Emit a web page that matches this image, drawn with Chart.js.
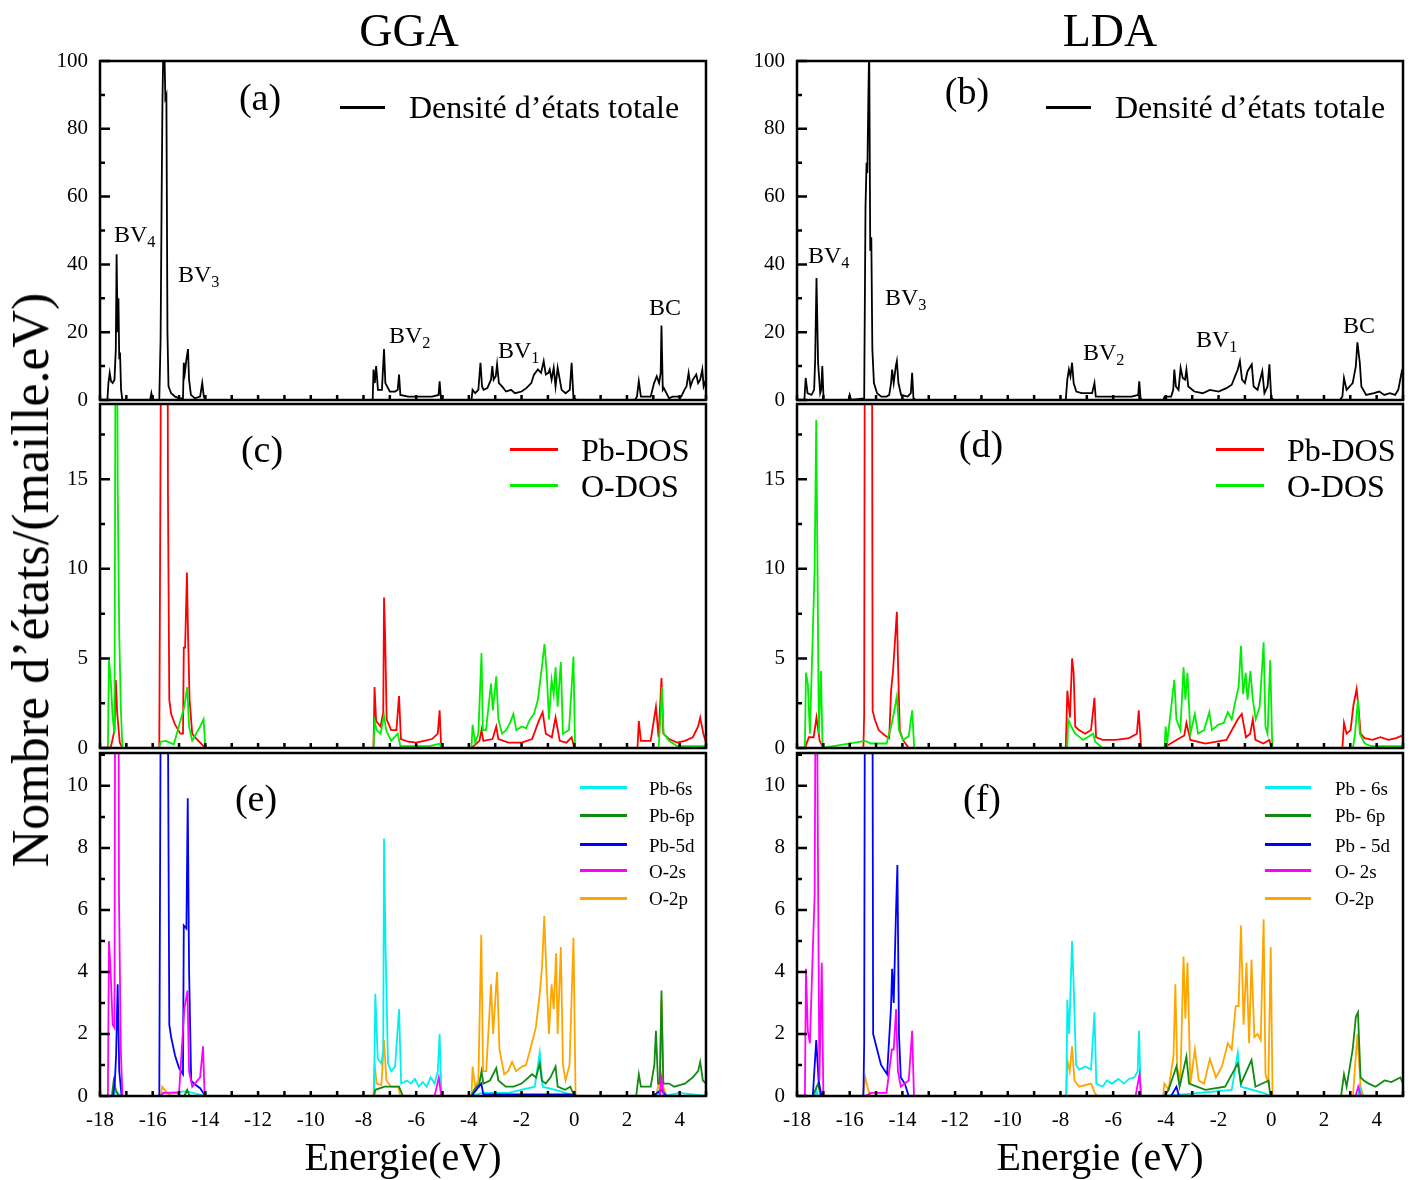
<!DOCTYPE html>
<html><head><meta charset="utf-8">
<script src="https://cdn.jsdelivr.net/npm/chart.js@4/dist/chart.umd.min.js"></script>
<style>
body{margin:0;background:#fff;width:1411px;height:1180px;position:relative;overflow:hidden;font-family:"Liberation Serif","Times New Roman",serif;color:#000}
canvas{position:absolute}
.t{position:absolute;white-space:nowrap;line-height:1;color:#000}
.c{transform:translate(-50%,-50%)}
.ln{position:absolute;height:3px}
sub{font-size:68%;vertical-align:-0.3em;line-height:0}
</style></head><body>
<script>
// ---------- tick labels ----------
const xTickLabels = [-18,-16,-14,-12,-10,-8,-6,-4,-2,0,2,4];
const yTicksTotal = [0,20,40,60,80,100];
const yTicksPDOS  = [0,5,10,15];
const yTicksOrb   = [0,2,4,6,8,10];

// ---------- (a) GGA total DOS  [E (eV), DOS] ----------
const ggaTotal = [[-18,0],[-17.72,0],[-17.68,5],[-17.63,8],[-17.58,5.5],[-17.52,5],[-17.45,6],[-17.40,15],[-17.37,43],[-17.33,20],[-17.30,30],[-17.27,12],[-17.24,14],[-17.20,3],[-17.15,0],
 [-16.1,0],[-16.05,2],[-16.0,0],
 [-15.75,0],[-15.70,18],[-15.66,60],[-15.63,88],[-15.60,102],[-15.56,105],[-15.52,89],[-15.48,90],[-15.44,20],[-15.40,4],[-15.30,2],[-15.15,1],[-15.0,0.5],
 [-14.85,0.5],[-14.82,11],[-14.78,8],[-14.72,12],[-14.66,15],[-14.62,6],[-14.55,1.5],[-14.4,0.5],[-14.2,1],[-14.12,5],[-14.06,1],[-14.0,0],
 [-7.65,0],[-7.62,9],[-7.57,5],[-7.52,10],[-7.45,3],[-7.30,3],[-7.22,15],[-7.17,5],[-7.0,2.5],[-6.8,2.5],[-6.70,3],[-6.65,7.5],[-6.60,1.5],[-6.3,1],[-6.0,1],[-5.7,1],[-5.4,1],[-5.15,1.5],[-5.11,5.5],[-5.06,0.5],[-5.0,0],
 [-3.9,0],[-3.86,3],[-3.76,2],[-3.64,3],[-3.56,11],[-3.50,4],[-3.44,3],[-3.30,3.5],[-3.16,6],[-3.11,10],[-3.06,6],[-2.98,7],[-2.93,10.5],[-2.86,5],[-2.74,4],[-2.59,2.5],[-2.40,3],[-2.25,2],[-2.0,2.5],[-1.82,3.5],[-1.63,5],[-1.53,7.5],[-1.38,9],[-1.26,8],[-1.16,11.5],[-1.08,7.5],[-0.98,8],[-0.93,9],[-0.86,6],[-0.78,9.5],[-0.71,4],[-0.63,9.5],[-0.48,3],[-0.33,2],[-0.17,3],[-0.10,11],[-0.03,0.5],[0.1,0],
 [2.3,0],[2.38,1],[2.45,5.5],[2.53,1],[2.9,1],[3.03,5],[3.13,7],[3.22,5],[3.28,8],[3.31,22],[3.36,3],[3.4,3.5],[3.5,2],[3.6,0.5],[3.73,1],[3.9,1],[4.06,1],[4.18,3],[4.26,4],[4.34,8],[4.41,4],[4.5,6],[4.63,7.5],[4.7,5],[4.78,6],[4.86,9],[4.91,4],[5,6]];

// ---------- (b) LDA total DOS ----------
const ldaTotal = [[-18,0],[-17.72,0],[-17.67,6.5],[-17.60,2],[-17.45,1.5],[-17.35,3],[-17.31,12],[-17.26,36],[-17.20,11],[-17.12,2],[-17.08,3],[-17.04,10],[-16.99,0],
 [-16.05,0],[-16.0,1.5],[-15.95,0],
 [-15.45,0.5],[-15.40,57],[-15.36,70],[-15.33,67],[-15.29,90],[-15.26,105],[-15.22,44],[-15.18,48],[-15.14,15],[-15.08,5],[-14.96,2],[-14.8,1],[-14.6,1],[-14.50,1.5],[-14.43,5],[-14.39,9],[-14.33,5],[-14.25,10],[-14.21,11.5],[-14.15,5],[-14.05,1.5],[-13.8,1],[-13.68,2],[-13.63,8],[-13.58,0.5],[-13.5,0],
 [-7.8,0],[-7.74,6],[-7.68,9],[-7.62,7],[-7.56,11],[-7.50,5],[-7.40,2.5],[-7.2,2],[-7.0,2],[-6.8,2],[-6.71,5],[-6.66,1],[-6.3,1],[-6.0,1],[-5.6,1],[-5.3,1],[-5.05,1.5],[-5.01,5.5],[-4.96,0.5],[-4.9,0],
 [-4.1,0],[-4.05,1],[-3.8,1],[-3.72,3],[-3.68,9],[-3.62,4],[-3.52,3],[-3.44,9.5],[-3.36,6.5],[-3.27,6],[-3.22,9],[-3.15,4],[-2.92,2.5],[-2.6,2],[-2.33,3],[-2.0,2.5],[-1.7,3.5],[-1.5,4.5],[-1.35,7.5],[-1.27,9],[-1.19,11.5],[-1.11,6],[-1.0,5],[-0.90,8.5],[-0.74,10.5],[-0.67,4],[-0.52,3],[-0.34,8.5],[-0.26,2],[-0.14,4],[-0.07,10.5],[0,0.5],[0.1,0],
 [2.6,0],[2.7,1],[2.76,6.5],[2.86,3],[3.09,5],[3.21,10],[3.27,17],[3.36,11],[3.42,4],[3.6,1.5],[3.9,2],[4.1,2.5],[4.29,1.5],[4.5,2],[4.7,1.5],[4.82,3],[4.97,9]];

// ---------- (c) GGA Pb / O ----------
const ggaPb = [[-18,0],[-17.6,0],[-17.52,0.5],[-17.45,1],[-17.40,3.8],[-17.35,2],[-17.25,0.3],[-17.15,0],
 [-15.75,0],[-15.70,17],[-15.66,40],[-15.55,80],[-15.46,40],[-15.42,14],[-15.37,2.7],[-15.30,1.9],[-15.15,1.3],[-14.95,0.8],[-14.85,0.8],[-14.82,5.6],[-14.77,5.6],[-14.70,9.8],[-14.66,6.4],[-14.60,2.7],[-14.5,0.8],[-14.4,0.6],[-14.2,0.3],[-14.0,0],
 [-7.62,0],[-7.58,3.4],[-7.52,1.5],[-7.35,1.2],[-7.25,2],[-7.22,8.4],[-7.18,6.4],[-7.12,1.6],[-6.95,1.0],[-6.75,1.0],[-6.65,2.9],[-6.58,0.5],[-6.3,0.35],[-6.0,0.3],[-5.7,0.4],[-5.4,0.5],[-5.18,0.8],[-5.11,2.1],[-5.05,0],
 [-3.9,0],[-3.6,0.4],[-3.52,1.0],[-3.45,0.4],[-3.10,0.5],[-2.96,1.2],[-2.88,0.5],[-2.5,0.3],[-2.0,0.3],[-1.6,0.5],[-1.35,1.5],[-1.2,2],[-1.08,0.8],[-0.85,0.6],[-0.71,1.7],[-0.55,0.4],[-0.3,0.3],[-0.1,0.6],[0,0],
 [2.4,0],[2.45,1.5],[2.53,0.4],[2.9,0.4],[3.1,2.3],[3.2,0.6],[3.31,3.9],[3.38,0.8],[3.6,0.5],[3.9,0.3],[4.2,0.4],[4.5,0.6],[4.7,1.2],[4.78,1.7],[4.9,0.8],[5,0.3]];
const ggaO = [[-18,0],[-17.70,0],[-17.66,4.9],[-17.60,4],[-17.52,1.7],[-17.45,0.8],[-17.39,35],[-17.36,30],[-17.33,14.8],[-17.27,6.4],[-17.21,2.3],[-17.15,0],
 [-15.75,0],[-15.7,0.35],[-15.5,0.4],[-15.2,0.2],[-14.8,2.3],[-14.69,3.4],[-14.62,1.2],[-14.5,0.4],[-14.2,1.2],[-14.07,1.6],[-14.0,0],
 [-7.62,0],[-7.58,1.5],[-7.5,1.0],[-7.35,0.8],[-7.22,1.8],[-7.14,1],[-6.95,0.4],[-6.7,0.8],[-6.6,0.1],[-5.5,0.1],[-5.1,0.25],[-5.05,0],
 [-3.9,0],[-3.86,1.3],[-3.76,0.3],[-3.64,0.8],[-3.52,5.3],[-3.47,1],[-3.35,1],[-3.16,3.6],[-3.09,2.1],[-2.96,4],[-2.88,1.6],[-2.74,0.8],[-2.59,1],[-2.44,1.4],[-2.31,1.9],[-2.2,1],[-1.98,1.2],[-1.83,1.1],[-1.68,1.6],[-1.53,1.9],[-1.38,2.7],[-1.23,4.5],[-1.13,5.8],[-1.05,4.3],[-0.96,1.6],[-0.86,3.8],[-0.78,3.0],[-0.71,4.5],[-0.63,2.3],[-0.51,4.8],[-0.43,0.8],[-0.2,1],[-0.03,5.1],[0.03,0],
 [3.2,0],[3.28,1.9],[3.33,3.4],[3.39,0.8],[3.6,0.4],[3.9,0.1],[5,0.1]];

// ---------- (d) LDA Pb / O ----------
const ldaPb = [[-18,0],[-17.7,0],[-17.55,0.6],[-17.37,0.6],[-17.26,1.7],[-17.14,0.4],[-17.0,0],
 [-15.48,0],[-15.45,1.9],[-15.41,40],[-15.30,70],[-15.17,40],[-15.13,2.1],[-15.05,1.6],[-14.9,1.0],[-14.66,0.7],[-14.5,0.55],[-14.43,3.2],[-14.36,4.2],[-14.28,6],[-14.21,7.6],[-14.16,4.4],[-14.10,1],[-13.98,0.45],[-13.76,0],
 [-7.8,0],[-7.74,3.2],[-7.64,1.7],[-7.56,5],[-7.50,4.2],[-7.44,1.2],[-7.3,1],[-7.06,0.8],[-6.84,1],[-6.71,2.8],[-6.65,0.6],[-6.4,0.45],[-5.9,0.45],[-5.4,0.55],[-5.1,0.8],[-5.03,2.1],[-4.94,0],
 [-4.1,0],[-3.6,0.45],[-3.30,0.7],[-3.22,1.4],[-3.07,0.45],[-2.5,0.25],[-1.7,0.45],[-1.27,1.6],[-1.12,1.9],[-0.96,0.6],[-0.80,0.8],[-0.70,1.6],[-0.6,0.45],[-0.3,0.25],[-0.07,0.45],[0,0],
 [2.7,0],[2.76,1.4],[2.86,0.8],[3.01,1.0],[3.12,2.4],[3.24,3.3],[3.32,2.1],[3.39,0.8],[3.54,0.55],[3.84,0.45],[4.14,0.6],[4.45,0.45],[4.74,0.55],[4.97,0.7],[5,0.45]];
const ldaO = [[-18,0],[-17.70,0],[-17.66,4.2],[-17.59,3.6],[-17.51,0.8],[-17.40,6.4],[-17.33,10],[-17.27,18.3],[-17.21,7.9],[-17.17,0.8],[-17.09,4.3],[-17.03,0],
 [-15.41,0.4],[-15.2,0.25],[-14.6,0.25],[-14.43,1.2],[-14.33,1.9],[-14.21,2.9],[-14.13,1.0],[-13.98,0.45],[-13.76,0.65],[-13.63,2.1],[-13.55,0],
 [-7.74,0],[-7.71,1.6],[-7.59,1.2],[-7.44,0.8],[-7.14,0.45],[-6.76,0.8],[-6.68,0.35],[-6.4,0],
 [-4.05,0],[-4.01,1.2],[-3.95,0.3],[-3.68,3.8],[-3.60,1.6],[-3.45,1],[-3.33,4.5],[-3.26,2.7],[-3.18,4.2],[-3.07,0.8],[-2.90,1.9],[-2.78,0.8],[-2.55,1],[-2.35,2],[-2.25,1],[-2.02,1.3],[-1.8,1.4],[-1.65,2],[-1.5,1.6],[-1.35,2.7],[-1.24,3.4],[-1.15,5.7],[-1.07,3.0],[-0.97,4.2],[-0.9,2.7],[-0.79,4.3],[-0.70,2.7],[-0.59,1.6],[-0.44,2.3],[-0.29,5.9],[-0.22,1.2],[-0.14,0.8],[-0.04,4.9],[0.04,0],
 [3.1,0],[3.18,0.8],[3.29,2.7],[3.36,0.8],[3.55,0.25],[3.8,0.1],[5,0.1]];

// ---------- (e) GGA orbital-resolved ----------
const ggaPb6s = [[-18,0],[-17.5,0],[-17.4,0.15],[-17.2,0],[-15.7,0],[-15.6,0.1],[-14.7,0.15],[-14.0,0],
 [-7.60,0],[-7.55,3.3],[-7.46,1.2],[-7.32,1.05],[-7.25,1.5],[-7.22,8.3],[-7.16,4.7],[-7.07,1.05],[-6.95,0.8],[-6.80,0.95],[-6.65,2.8],[-6.57,0.4],[-6.35,0.5],[-6.2,0.4],[-6.05,0.55],[-5.9,0.3],[-5.75,0.45],[-5.6,0.3],[-5.45,0.6],[-5.3,0.4],[-5.18,0.8],[-5.11,2.0],[-5.04,0],
 [-3.9,0],[-3.5,0.1],[-2.5,0.1],[-1.5,0.3],[-1.31,1.4],[-1.2,0.3],[-0.5,0.15],[0,0],
 [3.2,0],[3.3,0.5],[3.4,0],[4.0,0.1],[5,0]];
const ggaPb6p = [[-18,0],[-17.55,0],[-17.48,0.5],[-17.40,0.2],[-17.3,0],[-14.8,0],[-14.69,0.2],[-14.6,0],
 [-7.6,0],[-7.55,0.2],[-7.2,0.3],[-6.65,0.3],[-6.5,0],
 [-3.9,0],[-3.8,0.2],[-3.6,0.4],[-3.52,0.8],[-3.45,0.4],[-3.2,0.5],[-2.96,0.9],[-2.88,0.5],[-2.6,0.3],[-2.3,0.3],[-2.0,0.4],[-1.6,0.7],[-1.45,0.6],[-1.31,1.05],[-1.23,0.5],[-1.08,0.4],[-0.9,0.6],[-0.71,0.95],[-0.63,0.3],[-0.35,0.2],[-0.15,0.3],[0,0],
 [2.35,0],[2.45,0.7],[2.53,0.3],[2.9,0.3],[3.04,1.0],[3.10,2.1],[3.18,0.4],[3.25,0.4],[3.31,3.4],[3.38,0.4],[3.6,0.4],[3.8,0.3],[4.0,0.35],[4.2,0.4],[4.35,0.5],[4.5,0.6],[4.7,0.8],[4.78,1.1],[4.88,0.5],[5,0.4]];
const ggaPb5d = [[-18,0],[-17.5,0],[-17.44,0.4],[-17.39,1.3],[-17.33,3.6],[-17.27,0.8],[-17.18,0],
 [-15.75,0],[-15.70,12],[-15.55,40],[-15.45,20],[-15.42,12],[-15.37,2.3],[-15.30,1.9],[-15.15,1.3],[-15.0,0.9],[-14.85,0.7],[-14.82,5.5],[-14.72,5.4],[-14.67,9.6],[-14.62,4.1],[-14.54,0.5],[-14.44,0.4],[-14.2,0.25],[-14.0,0],
 [-3.9,0],[-3.53,0.4],[-3.45,0.05],[0,0.05],[0.1,0],[3.0,0],[3.3,0.2],[3.5,0]];
const ggaO2s = [[-18,0],[-17.70,0],[-17.66,5.0],[-17.60,4.1],[-17.52,2.3],[-17.45,2.2],[-17.39,30],[-17.33,28],[-17.28,6.5],[-17.21,1.5],[-17.15,0],
 [-15.7,0],[-15.6,0.1],[-15.0,0.1],[-14.8,2.8],[-14.68,3.4],[-14.62,0.8],[-14.5,0.3],[-14.2,0.6],[-14.09,1.6],[-14.03,0],
 [-5.3,0],[-5.14,0.6],[-5.05,0],[3.25,0],[3.3,0.6],[3.4,0]];
const ggaO2p = [[-18,0],[-15.7,0],[-15.64,0.3],[-15.5,0.15],[-15.3,0],
 [-7.62,0],[-7.58,1.05],[-7.50,0.4],[-7.32,0.35],[-7.22,1.8],[-7.13,0.5],[-6.95,0.3],[-6.68,0.3],[-6.6,0],
 [-3.9,0],[-3.86,0.95],[-3.76,0.3],[-3.64,0.5],[-3.53,5.2],[-3.46,0.8],[-3.34,0.8],[-3.16,3.6],[-3.08,2.0],[-2.93,4.0],[-2.84,1.5],[-2.66,0.7],[-2.51,0.8],[-2.36,1.1],[-2.21,0.8],[-1.98,0.95],[-1.83,1.0],[-1.61,1.7],[-1.46,2.2],[-1.31,3.3],[-1.22,4.2],[-1.14,5.8],[-1.05,3.8],[-0.96,2.0],[-0.86,3.6],[-0.78,2.8],[-0.69,4.6],[-0.63,2.0],[-0.51,4.8],[-0.43,1.0],[-0.33,0.5],[-0.18,1.0],[-0.03,5.1],[0.05,0],
 [3.1,0],[3.24,0.5],[3.31,3.1],[3.38,0.3],[3.5,0]];

// ---------- (f) LDA orbital-resolved ----------
const ldaPb6s = [[-18,0],[-17.3,0],[-17.27,0.2],[-17.2,0],
 [-7.78,0],[-7.74,3.1],[-7.67,2.0],[-7.56,5.0],[-7.50,3.6],[-7.41,1.0],[-7.29,0.85],[-7.06,0.95],[-6.84,0.85],[-6.71,2.7],[-6.64,0.4],[-6.4,0.3],[-6.24,0.5],[-6.05,0.4],[-5.8,0.55],[-5.6,0.4],[-5.4,0.55],[-5.2,0.6],[-5.07,0.8],[-5.02,2.1],[-4.95,0],
 [-4.0,0],[-1.5,0.2],[-1.27,1.4],[-1.15,0.3],[-0.3,0.1],[0,0],[3.3,0],[3.35,0.3],[3.45,0]];
const ldaPb6p = [[-18,0],[-17.4,0],[-17.3,0.2],[-17.2,0.4],[-17.1,0],
 [-4.05,0],[-3.9,0.2],[-3.6,0.95],[-3.48,0.3],[-3.22,1.27],[-3.12,0.4],[-2.5,0.2],[-1.75,0.3],[-1.27,1.05],[-1.15,0.4],[-0.75,1.16],[-0.6,0.3],[-0.1,0.5],[-0.05,0.1],[0,0],
 [2.65,0],[2.76,0.7],[2.86,0.3],[3.09,1.5],[3.21,2.55],[3.29,2.7],[3.39,0.6],[3.51,0.5],[3.7,0.4],[3.96,0.3],[4.3,0.5],[4.56,0.45],[4.9,0.6],[5,0.4]];
const ldaPb5d = [[-18,0],[-17.4,0],[-17.27,1.8],[-17.18,0.5],[-17.07,0],
 [-15.48,0],[-15.45,1.7],[-15.41,20],[-15.30,45],[-15.15,20],[-15.11,2.0],[-14.96,1.5],[-14.81,1.0],[-14.58,0.7],[-14.43,2.9],[-14.39,4.1],[-14.33,3.0],[-14.25,5.7],[-14.19,7.45],[-14.13,2.0],[-14.06,0.6],[-13.91,0.4],[-13.76,0],
 [-3.8,0],[-3.6,0.3],[-3.5,0],[0,0]];
const ldaO2s = [[-18,0],[-17.7,0],[-17.66,4.1],[-17.59,2.1],[-17.51,1.7],[-17.40,4.7],[-17.33,6.5],[-17.27,18],[-17.21,8.4],[-17.15,0.5],[-17.06,4.3],[-17.0,0],
 [-15.4,0],[-15.2,0.1],[-14.6,0.1],[-14.4,1.5],[-14.33,1.5],[-14.24,2.8],[-14.17,0.8],[-14.06,0.3],[-13.76,0.5],[-13.63,2.1],[-13.56,0],
 [-5.15,0],[-5.0,0.7],[-4.94,0],[3.2,0],[3.3,0.3],[3.4,0]];
const ldaO2p = [[-18,0],[-15.5,0],[-15.41,0.6],[-15.3,0.2],[-15.2,0],
 [-7.78,0],[-7.74,1.15],[-7.65,0.8],[-7.56,1.6],[-7.47,0.5],[-7.29,0.3],[-6.84,0.4],[-6.7,0.1],[-6.6,0],
 [-4.1,0],[-4.06,0.4],[-3.9,0.2],[-3.71,1.3],[-3.64,3.6],[-3.57,0.9],[-3.45,0.5],[-3.33,4.5],[-3.26,2.5],[-3.18,4.3],[-3.07,0.4],[-2.90,1.5],[-2.75,0.5],[-2.55,0.4],[-2.33,1.2],[-2.1,0.6],[-1.87,0.95],[-1.65,1.7],[-1.5,1.5],[-1.35,2.9],[-1.24,2.9],[-1.15,5.5],[-1.05,2.3],[-0.94,4.3],[-0.84,1.7],[-0.75,4.4],[-0.64,1.9],[-0.52,2.0],[-0.4,1.8],[-0.29,5.7],[-0.22,0.7],[-0.11,0.4],[-0.02,4.8],[0.05,0],
 [3.1,0],[3.27,2.0],[3.39,0.3],[3.5,0]];

// ---------- drawing ----------
const FONT = 'Liberation Serif';
const frameTicks = {
  id: 'frameTicks',
  afterDraw(chart, args, o) {
    const {ctx, chartArea: a, scales: {x, y}} = chart;
    ctx.save();
    ctx.strokeStyle = '#000';
    ctx.lineWidth = 2.5;
    ctx.beginPath();
    for (let v = Math.ceil(x.min); v <= x.max; v++) {
      const px = x.getPixelForValue(v);
      ctx.moveTo(px, a.bottom); ctx.lineTo(px, a.bottom - 5);
    }
    for (let v = 0; v <= y.max + 1e-9; v += o.minor) {
      const py = y.getPixelForValue(v);
      const major = o.major.some(m => Math.abs(m - v) < 1e-6);
      ctx.moveTo(a.left, py); ctx.lineTo(a.left + (major ? 10 : 5), py);
    }
    ctx.stroke();
    ctx.strokeRect(a.left, a.top, a.right - a.left, a.bottom - a.top);
    ctx.restore();
  }
};

function ds(label, pts, color, w) {
  return {label, data: pts.map(p => ({x: p[0], y: p[1]})), borderColor: color,
    borderWidth: w || 1.8, pointRadius: 0, tension: 0, fill: false};
}

function panel(area, yMax, yTicks, yMinor, datasets, showX) {
  const YW = 70, PR = 10, PT = 15, PB = 15, XH = 42;
  const cv = document.createElement('canvas');
  const w = YW + (area.r - area.l) + PR;
  const h = PT + (area.b - area.t) + (showX ? XH : PB);
  cv.width = w; cv.height = h;
  cv.style.left = (area.l - YW) + 'px'; cv.style.top = (area.t - PT) + 'px';
  cv.style.width = w + 'px'; cv.style.height = h + 'px';
  document.body.appendChild(cv);
  const noPad = s => { s.paddingTop = 0; s.paddingBottom = 0; s.paddingLeft = 0; s.paddingRight = 0; };
  new Chart(cv, {
    type: 'line',
    data: {datasets},
    options: {
      responsive: false, animation: false, devicePixelRatio: 1,
      layout: {padding: {left: 0, right: PR, top: PT, bottom: showX ? 0 : PB}},
      plugins: {legend: {display: false}, tooltip: {enabled: false},
        frameTicks: {minor: yMinor, major: yTicks}},
      scales: {
        x: {type: 'linear', min: -18, max: 5, display: !!showX,
          grid: {display: false, drawTicks: false}, border: {display: false},
          ticks: {font: {family: FONT, size: 21}, color: '#000', padding: 12, maxRotation: 0, autoSkip: false},
          afterBuildTicks: s => { s.ticks = xTickLabels.map(v => ({value: v})); },
          afterFit: s => { if (showX) s.height = XH; else s.height = 0; noPad(s); }},
        y: {type: 'linear', min: 0, max: yMax,
          grid: {display: false, drawTicks: false}, border: {display: false},
          ticks: {font: {family: FONT, size: 21}, color: '#000', padding: 12},
          afterBuildTicks: s => { s.ticks = yTicks.map(v => ({value: v})); },
          afterFit: s => { s.width = YW; noPad(s); }}
      }
    },
    plugins: [frameTicks]
  });
}

const C = {red: '#ff0000', lime: '#00ee00', cyan: '#00f0f0', dgreen: '#118a11', blue: '#0000ff', mag: '#ff00ff', orange: '#ffa500'};
const L = {l: 100, r: 706}, R = {l: 797, r: 1403};

panel({...L, t: 61, b: 400}, 100, yTicksTotal, 10, [ds('Densité d’états totale', ggaTotal, '#000')]);
panel({...R, t: 61, b: 400}, 100, yTicksTotal, 10, [ds('Densité d’états totale', ldaTotal, '#000')]);
panel({...L, t: 404, b: 748}, 19.2, yTicksPDOS, 2.5, [ds('O-DOS', ggaO, C.lime), ds('Pb-DOS', ggaPb, C.red)]);
panel({...R, t: 404, b: 748}, 19.2, yTicksPDOS, 2.5, [ds('O-DOS', ldaO, C.lime), ds('Pb-DOS', ldaPb, C.red)]);
panel({...L, t: 753, b: 1096}, 11.06, yTicksOrb, 1, [ds('O-2s', ggaO2s, C.mag), ds('Pb-5d', ggaPb5d, C.blue), ds('Pb-6p', ggaPb6p, C.dgreen), ds('Pb-6s', ggaPb6s, C.cyan), ds('O-2p', ggaO2p, C.orange)], true);
panel({...R, t: 753, b: 1096}, 11.06, yTicksOrb, 1, [ds('O- 2s', ldaO2s, C.mag), ds('Pb - 5d', ldaPb5d, C.blue), ds('Pb- 6p', ldaPb6p, C.dgreen), ds('Pb - 6s', ldaPb6s, C.cyan), ds('O-2p', ldaO2p, C.orange)], true);
</script>

<!-- titles -->
<div class="t c" style="left:409px;top:31px;font-size:46px">GGA</div>
<div class="t c" style="left:1110px;top:31px;font-size:46px">LDA</div>
<div class="t c" style="left:31px;top:580px;font-size:52px;transform:translate(-50%,-50%) rotate(-90deg)">Nombre d’états/(maille.eV)</div>
<div class="t c" style="left:403px;top:1157px;font-size:40px">Energie(eV)</div>
<div class="t c" style="left:1100px;top:1157px;font-size:40px">Energie (eV)</div>

<!-- panel letters -->
<div class="t c" style="left:260px;top:97px;font-size:38px">(a)</div>
<div class="t c" style="left:967px;top:91px;font-size:38px">(b)</div>
<div class="t c" style="left:262px;top:449px;font-size:38px">(c)</div>
<div class="t c" style="left:981px;top:444px;font-size:38px">(d)</div>
<div class="t c" style="left:256px;top:798px;font-size:38px">(e)</div>
<div class="t c" style="left:982px;top:798px;font-size:38px">(f)</div>

<!-- band labels -->
<div class="t" style="left:114px;top:222px;font-size:24px">BV<sub>4</sub></div>
<div class="t" style="left:178px;top:262px;font-size:24px">BV<sub>3</sub></div>
<div class="t" style="left:389px;top:323px;font-size:24px">BV<sub>2</sub></div>
<div class="t" style="left:498px;top:338px;font-size:24px">BV<sub>1</sub></div>
<div class="t" style="left:649px;top:295px;font-size:24px">BC</div>
<div class="t" style="left:808px;top:243px;font-size:24px">BV<sub>4</sub></div>
<div class="t" style="left:885px;top:285px;font-size:24px">BV<sub>3</sub></div>
<div class="t" style="left:1083px;top:340px;font-size:24px">BV<sub>2</sub></div>
<div class="t" style="left:1196px;top:327px;font-size:24px">BV<sub>1</sub></div>
<div class="t" style="left:1343px;top:313px;font-size:24px">BC</div>

<!-- legends -->
<div class="ln" style="left:340px;top:106px;width:45px;background:#000"></div>
<div class="t" style="left:409px;top:107px;font-size:32px;transform:translateY(-50%)">Densité d’états totale</div>
<div class="ln" style="left:1046px;top:106px;width:45px;background:#000"></div>
<div class="t" style="left:1115px;top:107px;font-size:32px;transform:translateY(-50%)">Densité d’états totale</div>

<div class="ln" style="left:510px;top:448px;width:48px;background:#ff0000"></div>
<div class="t" style="left:581px;top:450px;font-size:32px;transform:translateY(-50%)">Pb-DOS</div>
<div class="ln" style="left:510px;top:484px;width:48px;background:#00ee00"></div>
<div class="t" style="left:581px;top:486px;font-size:32px;transform:translateY(-50%)">O-DOS</div>
<div class="ln" style="left:1216px;top:448px;width:48px;background:#ff0000"></div>
<div class="t" style="left:1287px;top:450px;font-size:32px;transform:translateY(-50%)">Pb-DOS</div>
<div class="ln" style="left:1216px;top:484px;width:48px;background:#00ee00"></div>
<div class="t" style="left:1287px;top:486px;font-size:32px;transform:translateY(-50%)">O-DOS</div>

<div class="ln" style="left:580px;top:786px;width:47px;background:#00f0f0"></div>
<div class="t" style="left:649px;top:788px;font-size:19px;transform:translateY(-50%)">Pb-6s</div>
<div class="ln" style="left:580px;top:814px;width:47px;background:#118a11"></div>
<div class="t" style="left:649px;top:815px;font-size:19px;transform:translateY(-50%)">Pb-6p</div>
<div class="ln" style="left:580px;top:843px;width:47px;background:#0000ff"></div>
<div class="t" style="left:649px;top:845px;font-size:19px;transform:translateY(-50%)">Pb-5d</div>
<div class="ln" style="left:580px;top:869px;width:47px;background:#ff00ff"></div>
<div class="t" style="left:649px;top:871px;font-size:19px;transform:translateY(-50%)">O-2s</div>
<div class="ln" style="left:580px;top:897px;width:47px;background:#ffa500"></div>
<div class="t" style="left:649px;top:898px;font-size:19px;transform:translateY(-50%)">O-2p</div>

<div class="ln" style="left:1265px;top:786px;width:46px;background:#00f0f0"></div>
<div class="t" style="left:1335px;top:788px;font-size:19px;transform:translateY(-50%)">Pb - 6s</div>
<div class="ln" style="left:1265px;top:814px;width:46px;background:#118a11"></div>
<div class="t" style="left:1335px;top:815px;font-size:19px;transform:translateY(-50%)">Pb- 6p</div>
<div class="ln" style="left:1265px;top:843px;width:46px;background:#0000ff"></div>
<div class="t" style="left:1335px;top:845px;font-size:19px;transform:translateY(-50%)">Pb - 5d</div>
<div class="ln" style="left:1265px;top:869px;width:46px;background:#ff00ff"></div>
<div class="t" style="left:1335px;top:871px;font-size:19px;transform:translateY(-50%)">O- 2s</div>
<div class="ln" style="left:1265px;top:897px;width:46px;background:#ffa500"></div>
<div class="t" style="left:1335px;top:898px;font-size:19px;transform:translateY(-50%)">O-2p</div>
</body></html>
